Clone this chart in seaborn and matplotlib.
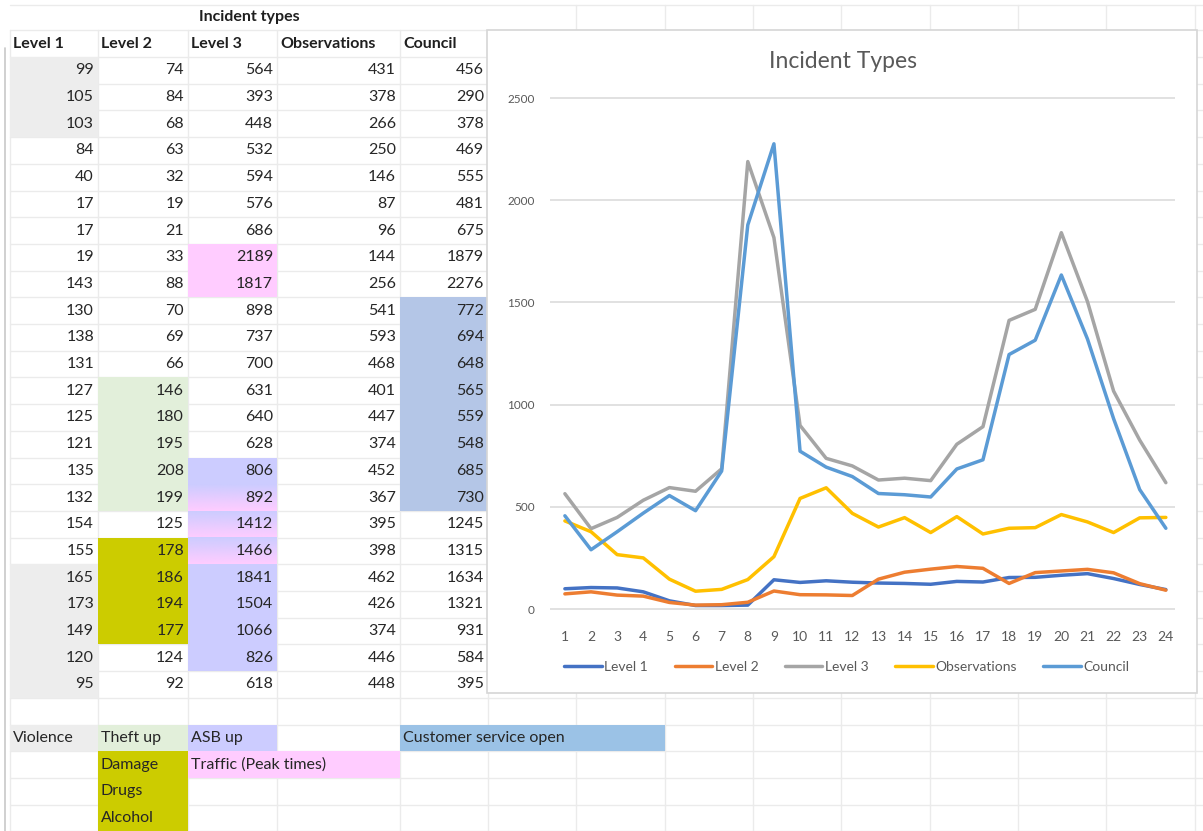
import numpy as np
import pandas as pd
import matplotlib.pyplot as plt
import matplotlib as mpl
import seaborn as sns
from matplotlib.patches import Rectangle
from matplotlib.colors import LinearSegmentedColormap

# ---- data (hourly incident counts) ----
hours = list(range(1, 25))
level_1 = [99, 105, 103, 84, 40, 17, 17, 19, 143, 130, 138, 131,
           127, 125, 121, 135, 132, 154, 155, 165, 173, 149, 120, 95]
level_2 = [74, 84, 68, 63, 32, 19, 21, 33, 88, 70, 69, 66,
           146, 180, 195, 208, 199, 125, 178, 186, 194, 177, 124, 92]
level_3 = [564, 393, 448, 532, 594, 576, 686, 2189, 1817, 898, 737, 700,
           631, 640, 628, 806, 892, 1412, 1466, 1841, 1504, 1066, 826, 618]
observations = [431, 378, 266, 250, 146, 87, 96, 144, 256, 541, 593, 468,
                401, 447, 374, 452, 367, 395, 398, 462, 426, 374, 446, 448]
council = [456, 290, 378, 469, 555, 481, 675, 1879, 2276, 772, 694, 648,
           565, 559, 548, 685, 730, 1245, 1315, 1634, 1321, 931, 584, 395]

series_names = ['Level 1', 'Level 2', 'Level 3', 'Observations', 'Council']
series_colors = ['#4472C4', '#ED7D31', '#A5A5A5', '#FFC000', '#5B9BD5']
y_ticks = [0, 500, 1000, 1500, 2000, 2500]

# highlighted cells: (column, first row, last row, colour)
GRAY, GREEN, OLIVE = '#ededed', '#e2efda', '#cccc00'
PINK, LAV, BLUE = '#ffccff', '#ccccff', '#b4c6e7'
cell_fills = [(0, 0, 2, GRAY), (0, 19, 23, GRAY),
              (1, 12, 16, GREEN), (1, 18, 21, OLIVE),
              (2, 7, 8, PINK), (2, 15, 15, LAV), (2, 19, 22, LAV),
              (4, 9, 16, BLUE)]
gradient_rows = [16, 17, 18]  # column 3, lavender -> pink

# key under the table: (text, row, first col, last col, colour)
key_cells = [('Violence', 0, 0, 0, GRAY), ('Theft up', 0, 1, 1, GREEN),
             ('ASB up', 0, 2, 2, LAV), ('Customer service open', 0, 4, 6, '#9bc2e6'),
             ('Damage', 1, 1, 1, OLIVE), ('Traffic (Peak times)', 1, 2, 3, PINK),
             ('Drugs', 2, 1, 1, OLIVE), ('Alcohol', 3, 1, 1, OLIVE)]

sns.set_theme(style='white')
plt.rcParams['font.family'] = ['Lato', 'DejaVu Sans']

W, H = 1203, 831
fig = plt.figure(figsize=(W / 100, H / 100), dpi=100)

# ---- spreadsheet layer (pixel coordinates) ----
sheet = fig.add_axes([0, 0, 1, 1])
sheet.set_xlim(0, W)
sheet.set_ylim(H, 0)
sheet.axis('off')

col_x = [10, 98, 188, 277, 400, 488, 576, 665, 753, 841, 930, 1018, 1106, 1195]
row_h = 26.7
data_top = 57
row_y = [5, 30] + [data_top + row_h * i for i in range(30)]
grid_c = '#ebebeb'

for x in col_x:
    sheet.plot([x, x], [30 if x < 490 else 5, H], color=grid_c, lw=1, zorder=1)
for y in row_y:
    sheet.plot([col_x[0], W], [y, y], color=grid_c, lw=1, zorder=1)
sheet.plot([5, 5], [48, H], color='#c8c8c8', lw=1.2, zorder=1)


def row_top(r):
    return data_top + row_h * r


for col, r0, r1, colr in cell_fills:
    sheet.add_patch(Rectangle((col_x[col], row_top(r0)), col_x[col + 1] - col_x[col],
                              row_h * (r1 - r0 + 1), color=colr, lw=0, zorder=2))

grad_cmap = LinearSegmentedColormap.from_list('lp', [LAV, PINK])
for r in gradient_rows:
    sheet.imshow(np.linspace(0, 1, 50).reshape(-1, 1), cmap=grad_cmap, aspect='auto',
                 extent=(col_x[2], col_x[3], row_top(r + 1), row_top(r)), zorder=2)
sheet.set_xlim(0, W)
sheet.set_ylim(H, 0)

# headers
sheet.text((col_x[0] + col_x[5]) / 2, 17.5, 'Incident types', ha='center', va='center',
           fontsize=11.5, fontweight='bold', color='#1f1f1f', zorder=3)
for j, name in enumerate(series_names):
    sheet.text(col_x[j] + 3, 43.5, name, ha='left', va='center', fontsize=11.5,
               fontweight='bold', color='#1f1f1f', zorder=3)

# values
table = [level_1, level_2, level_3, observations, council]
for j, values in enumerate(table):
    for i, v in enumerate(values):
        sheet.text(col_x[j + 1] - 4, row_top(i) + row_h / 2, str(v), ha='right',
                   va='center', fontsize=11.5, color='#262626', zorder=3)

# key
key_top = row_top(25)
for text, r, c0, c1, colr in key_cells:
    y0 = key_top + row_h * r
    sheet.add_patch(Rectangle((col_x[c0], y0), col_x[c1 + 1] - col_x[c0], row_h,
                              color=colr, lw=0, zorder=2))
    sheet.text(col_x[c0] + 3, y0 + row_h / 2, text, ha='left', va='center',
               fontsize=11.5, color='#262626', zorder=3)

# chart area frame
sheet.add_patch(Rectangle((487, 30), 1197 - 487, 693 - 30, facecolor='white',
                          edgecolor='#d6d6d6', lw=1.2, zorder=4))

# ---- line chart ----
px_per_unit = (609 - 98) / 2500
y_lo, y_hi = -20, 2520
ax_top = 98 - (y_hi - 2500) * px_per_unit
ax_bot = 609 - y_lo * px_per_unit
ax_l, ax_r = 550, 1175
ax = fig.add_axes([ax_l / W, 1 - ax_bot / H, (ax_r - ax_l) / W, (ax_bot - ax_top) / H])
ax.set_zorder(5)
ax.patch.set_alpha(0)

df = pd.DataFrame({'Hour': hours, 'Level 1': level_1, 'Level 2': level_2,
                   'Level 3': level_3, 'Observations': observations, 'Council': council})
long_df = df.melt(id_vars='Hour', var_name='Series', value_name='Count')
sns.lineplot(data=long_df, x='Hour', y='Count', hue='Series', hue_order=series_names,
             palette=series_colors, linewidth=2.5, ax=ax)

ax.set_xlim(0.43, 24.35)
ax.set_ylim(y_lo, y_hi)
ax.set_xticks(hours)
ax.set_yticks(y_ticks)
ax.set_xticklabels([str(h) for h in hours], fontsize=10, color='#595959')
ax.set_yticklabels([str(t) for t in y_ticks], fontsize=8.5, color='#595959')
ax.tick_params(axis='x', length=0, pad=13)
ax.tick_params(axis='y', length=0, pad=11)
ax.set_xlabel('')
ax.set_ylabel('')
ax.grid(axis='y', color='#dedede', lw=1.3)
ax.grid(axis='x', visible=False)
for s in ax.spines.values():
    s.set_visible(False)

sns.move_legend(ax, 'center', bbox_to_anchor=(0.475, (ax_bot - 667) / (ax_bot - ax_top)),
                ncol=5, frameon=False, title=None, fontsize=10, labelcolor='#595959',
                handlelength=2.7, handletextpad=0.2, columnspacing=1.9)

fig.text(843 / W, 1 - 62 / H, 'Incident Types', ha='center', va='center',
         fontsize=16.5, color='#595959', zorder=6)

fig.savefig('out.png', dpi=100)
